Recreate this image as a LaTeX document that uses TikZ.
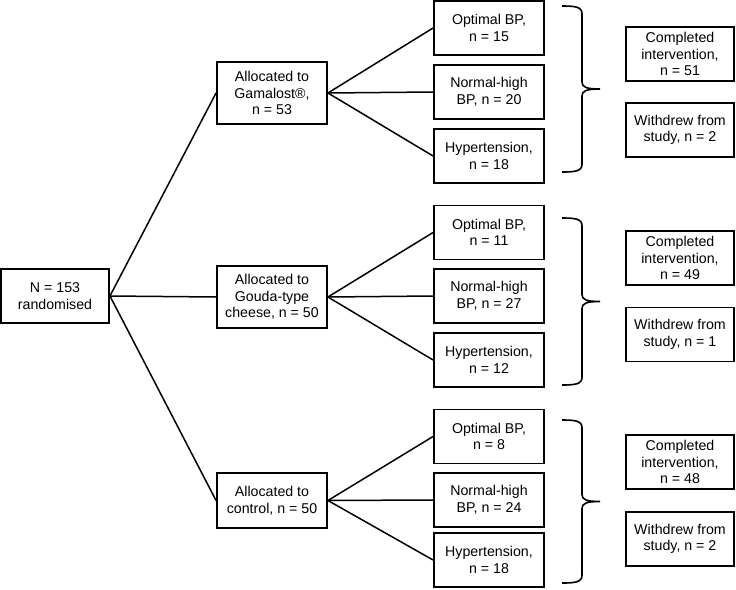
\documentclass[tikz,border=0pt]{standalone}
\usepackage{fontspec}
\setmainfont{Liberation Sans}
\usetikzlibrary{positioning}

\tikzset{
  box/.style={draw, line width=1.9pt, align=center, minimum width=110pt,
    minimum height=54pt, inner sep=2pt, font=\fontsize{14.2}{16.6}\selectfont},
  tall/.style={minimum height=62pt},
  link/.style={line width=1.5pt},
  curly/.style={line width=1.6pt},
}

% curly bracket from top to bottom (y in px), tip to the right
\newcommand\curlybrace[2]{%
  \pgfmathsetmacro\bmid{(#1+#2)/2}
  \draw[curly] (562,#1) .. controls (576,#1) and (582,#1+1) .. (582,#1+8)
    -- (582,\bmid-7) .. controls (582,\bmid-2) and (586,\bmid) .. (600,\bmid)
    .. controls (586,\bmid) and (582,\bmid+2) .. (582,\bmid+7)
    -- (582,#2-8) .. controls (582,#2-1) and (576,#2) .. (562,#2);}

\begin{document}
\begin{tikzpicture}[x=1pt,y=-1pt]
\useasboundingbox (0,0) rectangle (736,589);

% randomisation
\node[box, minimum width=108pt] (rand) at (55,296) {N = 153\\randomised};

% arms
\node[box, tall] (gam) at (272,93) {Allocated to\\Gamalost®,\\n = 53};
\node[box, tall] (gou) at (272,297) {Allocated to\\Gouda-type\\cheese, n = 50};
\node[box, minimum height=55pt] (con) at (272,500.5) {Allocated to\\control, n = 50};

% blood pressure groups
\node[box] (gamopt) at (489,28) {Optimal BP,\\n = 15};
\node[box] (gamnor) at (489,92) {Normal-high\\BP, n = 20};
\node[box] (gamhyp) at (489,156) {Hypertension,\\n = 18};

\node[box] (gouopt) at (489,232.5) {Optimal BP,\\n = 11};
\node[box] (gounor) at (489,296) {Normal-high\\BP, n = 27};
\node[box] (gouhyp) at (489,360) {Hypertension,\\n = 12};

\node[box] (conopt) at (489,436.5) {Optimal BP,\\n = 8};
\node[box] (connor) at (489,500) {Normal-high\\BP, n = 24};
\node[box] (conhyp) at (489,560) {Hypertension,\\n = 18};

% outcome
\node[box, minimum width=108pt] (gamdone) at (680,54) {Completed\\intervention,\\ n = 51};
\node[box, minimum width=108pt] (gamwd) at (680,130) {Withdrew from\\ study, n = 2};
\node[box, minimum width=108pt] (goudone) at (680,258) {Completed\\intervention,\\ n = 49};
\node[box, minimum width=108pt] (gouwd) at (680,334.5) {Withdrew from\\ study, n = 1};
\node[box, minimum width=108pt] (condone) at (680,462) {Completed\\intervention,\\ n = 48};
\node[box, minimum width=108pt] (conwd) at (680,539) {Withdrew from\\ study, n = 2};

\draw[link] (rand.east) -- (gam.west);
\draw[link] (rand.east) -- (gou.west);
\draw[link] (rand.east) -- (con.west);

\draw[link] (gam.east) -- (gamopt.west);
\draw[link] (gam.east) -- (gamnor.west);
\draw[link] (gam.east) -- (gamhyp.west);
\draw[link] (gou.east) -- (gouopt.west);
\draw[link] (gou.east) -- (gounor.west);
\draw[link] (gou.east) -- (gouhyp.west);
\draw[link] (con.east) -- (conopt.west);
\draw[link] (con.east) -- (connor.west);
\draw[link] (con.east) -- (conhyp.west);

\curlybrace{6}{172}
\curlybrace{218}{385}
\curlybrace{420}{583}
\end{tikzpicture}
\end{document}
